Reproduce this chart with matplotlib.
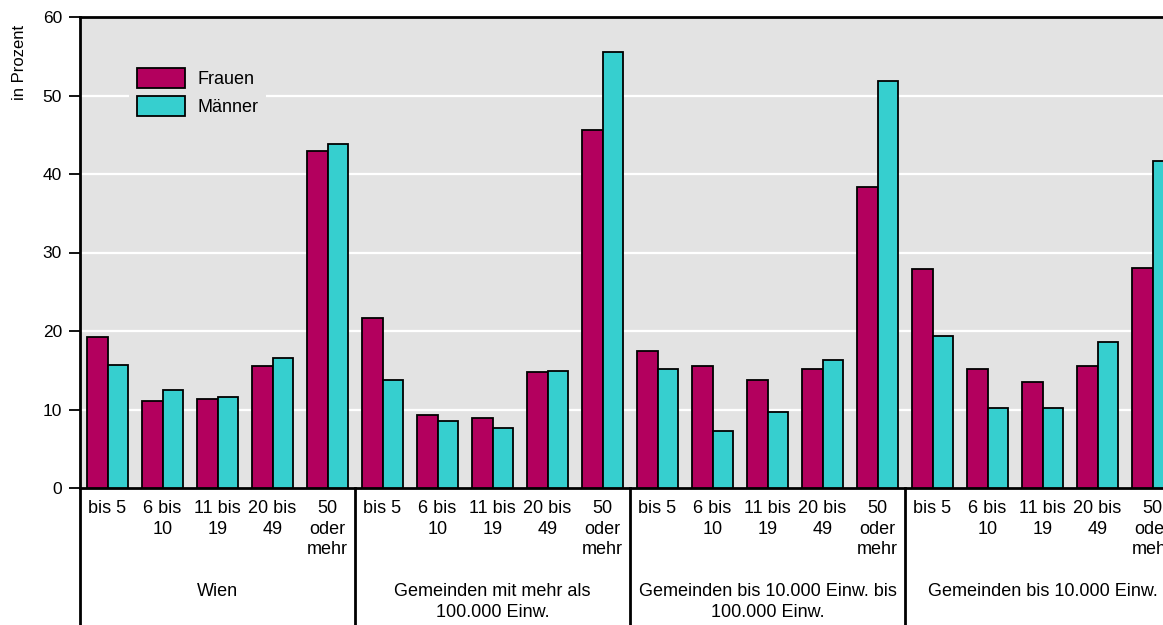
import matplotlib
matplotlib.use("Agg")
import matplotlib.pyplot as plt
from matplotlib import font_manager as fm

# ---- data ----
groups = ["Wien",
          "Gemeinden mit mehr als\n100.000 Einw.",
          "Gemeinden bis 10.000 Einw. bis\n100.000 Einw.",
          "Gemeinden bis 10.000 Einw."]
categories = ["bis 5", "6 bis\n10", "11 bis\n19", "20 bis\n49", "50\noder\nmehr"]
series_names = ["Frauen", "Männer"]
frauen = [19.2, 11.1, 11.3, 15.6, 42.9,
          21.6, 9.3, 8.9, 14.8, 45.6,
          17.5, 15.5, 13.8, 15.1, 38.4,
          27.9, 15.2, 13.5, 15.5, 28.0]
maenner = [15.7, 12.5, 11.6, 16.5, 43.8,
           13.7, 8.5, 7.7, 14.9, 55.5,
           15.2, 7.3, 9.7, 16.3, 51.8,
           19.4, 10.2, 10.2, 18.6, 41.7]
yticks = [0, 10, 20, 30, 40, 50, 60]

# ---- fonts ----
avail = {f.name for f in fm.fontManager.ttflist}
narrow = "Liberation Sans Narrow" if "Liberation Sans Narrow" in avail else "Liberation Sans"
regular = "Liberation Sans"
nfs = 14.5 if narrow == "Liberation Sans Narrow" else 13

c_f = "#b3005e"
c_m = "#36cfcf"
bg = "#e3e3e3"

W, H = 1163, 625
fig = plt.figure(figsize=(W / 100, H / 100), dpi=100)
left_px, right_px, top_px, bot_px = 80, 1180, 17, 488
ax = fig.add_axes([left_px / W, 1 - bot_px / H, (right_px - left_px) / W, (bot_px - top_px) / H])
ax.set_facecolor(bg)

n = len(frauen)
xs = list(range(n))
bw = 0.376
ax.bar([x - bw / 2 for x in xs], frauen, width=bw, color=c_f, edgecolor="black", linewidth=1.3,
       label=series_names[0], zorder=3)
ax.bar([x + bw / 2 for x in xs], maenner, width=bw, color=c_m, edgecolor="black", linewidth=1.3,
       label=series_names[1], zorder=3)

ax.set_xlim(-0.5, n - 0.5)
ax.set_ylim(0, 60)
ax.set_yticks(yticks)
ax.set_yticklabels([str(v) for v in yticks], fontfamily=regular, fontsize=12.5)
ax.yaxis.grid(True, color="white", linewidth=1.6, zorder=0)
ax.set_axisbelow(True)
ax.tick_params(axis="y", length=8, width=1.3, pad=5, color="black")

labels = [categories[i % len(categories)] for i in range(n)]
ax.set_xticks(xs)
ax.set_xticklabels(labels, fontfamily=narrow, fontsize=nfs, linespacing=1.29)
ax.tick_params(axis="x", length=0, pad=8.5)

for s in ["left", "bottom", "top"]:
    ax.spines[s].set_linewidth(2)
    ax.spines[s].set_color("black")
ax.spines["right"].set_visible(False)

# group separators & group labels
xtr = ax.get_xaxis_transform()
ybottom = -(H - bot_px) / (bot_px - top_px)
ng = len(categories)
for g in range(len(groups) + 1):
    xb = g * ng - 0.5
    ax.plot([xb, xb], [0, ybottom - 0.02], transform=xtr, color="black", lw=2, clip_on=False)
for g, name in enumerate(groups):
    xc = g * ng + (ng - 1) / 2
    ax.text(xc, -0.2017, name, transform=xtr, ha="center", va="top", fontfamily=narrow,
            fontsize=nfs, linespacing=1.29)

# y label
fig.text(20 / W, 1 - 62 / H, "in Prozent", rotation=90, ha="center", va="center",
         fontfamily=regular, fontsize=12)

leg = ax.legend(loc="upper left", bbox_to_anchor=((129 - left_px) / (right_px - left_px),
                                                 (bot_px - 60) / (bot_px - top_px)),
                prop={"family": narrow, "size": nfs}, frameon=True, facecolor=bg,
                edgecolor="none", framealpha=1, fancybox=False, handlelength=2.7,
                handleheight=1.33, handletextpad=0.65, labelspacing=0.48, borderpad=0.42,
                borderaxespad=0)
leg.set_zorder(5)

fig.savefig("out.png", dpi=100)
